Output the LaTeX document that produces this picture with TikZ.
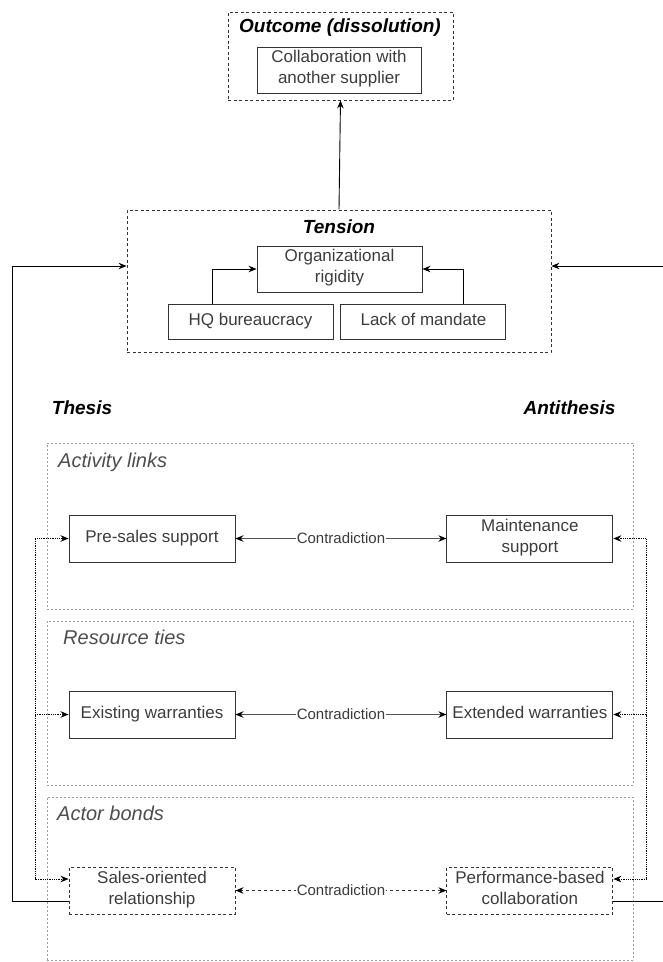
\documentclass[tikz,border=0pt]{standalone}
\usepackage{fontspec}
\setmainfont{Liberation Sans}
\usepackage{tikz}
\usetikzlibrary{arrows.meta, positioning, calc}
\definecolor{boxline}{HTML}{333333}
\definecolor{boxtext}{HTML}{3C3C3C}
\definecolor{layerline}{HTML}{9A9A9A}
\definecolor{layertext}{HTML}{4D4D4D}
\definecolor{linkgray}{HTML}{555555}

\begin{document}
\begin{tikzpicture}[
    x=1pt, y=-1pt,
    box/.style={rectangle, draw=boxline, line width=0.9pt, minimum width=166pt, minimum height=47pt, inner sep=0pt, align=center, text=boxtext, font=\fontsize{17}{21}\selectfont, execute at begin node=\strut},
    smallbox/.style={box, minimum width=165pt, minimum height=35pt},
    dashbox/.style={box, dash pattern=on 3pt off 2.5pt},
    frame/.style={rectangle, draw=boxline, line width=0.8pt, dash pattern=on 3pt off 2.5pt},
    layer/.style={rectangle, draw=layerline, line width=0.8pt, dash pattern=on 1.6pt off 2.4pt, minimum width=586pt},
    title/.style={inner sep=0pt, font=\fontsize{19}{22}\selectfont\bfseries\itshape},
    layertitle/.style={anchor=west, inner sep=0pt, text=layertext, font=\fontsize{20}{24}\selectfont\itshape},
    arr/.style={-{Stealth[length=8pt, width=6.5pt]}, line width=0.9pt},
    biarr/.style={{Stealth[length=8pt, width=6.5pt, color=black]}-{Stealth[length=8pt, width=6.5pt, color=black]}, line width=1pt, draw=linkgray},
    dotarr/.style={-{Stealth[length=8pt, width=6.5pt]}, line width=0.8pt, densely dotted},
    contra/.style={fill=white, inner sep=1pt, text=boxtext, font=\fontsize{15}{17}\selectfont}
]
\useasboundingbox (0,0) rectangle (663,962);

% outcome and tension
\node[frame, minimum width=225pt, minimum height=88pt] (outframe) at (340.5,56) {};
\node[title] (outtitle) at (340,28) {Outcome (dissolution)};
\node[box, minimum width=164pt, minimum height=46pt] (collab) at (339,70) {Collaboration with\\another supplier};

\node[frame, minimum width=424pt, minimum height=142pt] (tenframe) at (339,281) {};
\node[title] (tentitle) at (339,227) {Tension};
\node[box, minimum width=165pt, minimum height=46pt] (rigid) at (339.5,269) {Organizational\\rigidity};
\node[smallbox] (hq) at (250.5,321.5) {HQ bureaucracy};
\node[smallbox, right=7pt of hq] (mandate) {Lack of mandate};

\draw[arr] ([xshift=-38.5pt]hq.north) |- (rigid.west);
\draw[arr] ([xshift=40.5pt]mandate.north) |- (rigid.east);
\draw[arr] (tenframe.north) -- (outframe.south);

\node[title] (thesis) at (82,408) {Thesis};
\node[title] (antithesis) at (569.5,408) {Antithesis};

% layers
\node[layer, minimum height=166pt] (actlayer) at (340,526) {};
\node[layer, minimum height=164pt] (reslayer) at (340,703) {};
\node[layer, minimum height=163pt] (actorlayer) at (340,878.5) {};
\node[layertitle] at (58,462) {Activity links};
\node[layertitle] at (63,637) {Resource ties};
\node[layertitle] at (57,813) {Actor bonds};

\node[box] (presales) at (152,538.5) {Pre-sales support};
\node[box, right=211pt of presales] (maint) {Maintenance\\support};
\node[box] (existing) at (152,714.5) {Existing warranties};
\node[box, right=211pt of existing] (extended) {Extended warranties};
\node[dashbox] (salesrel) at (152,890.5) {Sales-oriented\\relationship};
\node[dashbox, right=211pt of salesrel] (perfcollab) {Performance-based\\collaboration};

\draw[biarr] (presales) -- node[contra] {Contradiction} (maint);
\draw[biarr] (existing) -- node[contra] {Contradiction} (extended);
\draw[biarr, draw=boxline, dash pattern=on 3pt off 3pt] (salesrel) -- node[contra] {Contradiction} (perfcollab);

% side links
\coordinate (thesisbus) at (35,714.5);
\coordinate (antibus) at (646,714.5);
\draw[dotarr] (thesisbus) |- (presales.west);
\draw[dotarr] (thesisbus) -- (existing.west);
\draw[dotarr] (thesisbus) |- ([yshift=11.5pt]salesrel.west);
\draw[dotarr] (antibus) |- (maint.east);
\draw[dotarr] (antibus) -- (extended.east);
\draw[dotarr] (antibus) |- ([yshift=11.5pt]perfcollab.east);

% feedback to tension
\coordinate (leftturn) at (12,266);
\coordinate (rightturn) at (663,266);
\draw[arr] ([yshift=-10.5pt]salesrel.west) -| (leftturn) -- (leftturn -| tenframe.west);
\draw[arr] ([yshift=-10.5pt]perfcollab.east) -| (rightturn) -- (rightturn -| tenframe.east);
\end{tikzpicture}
\end{document}
